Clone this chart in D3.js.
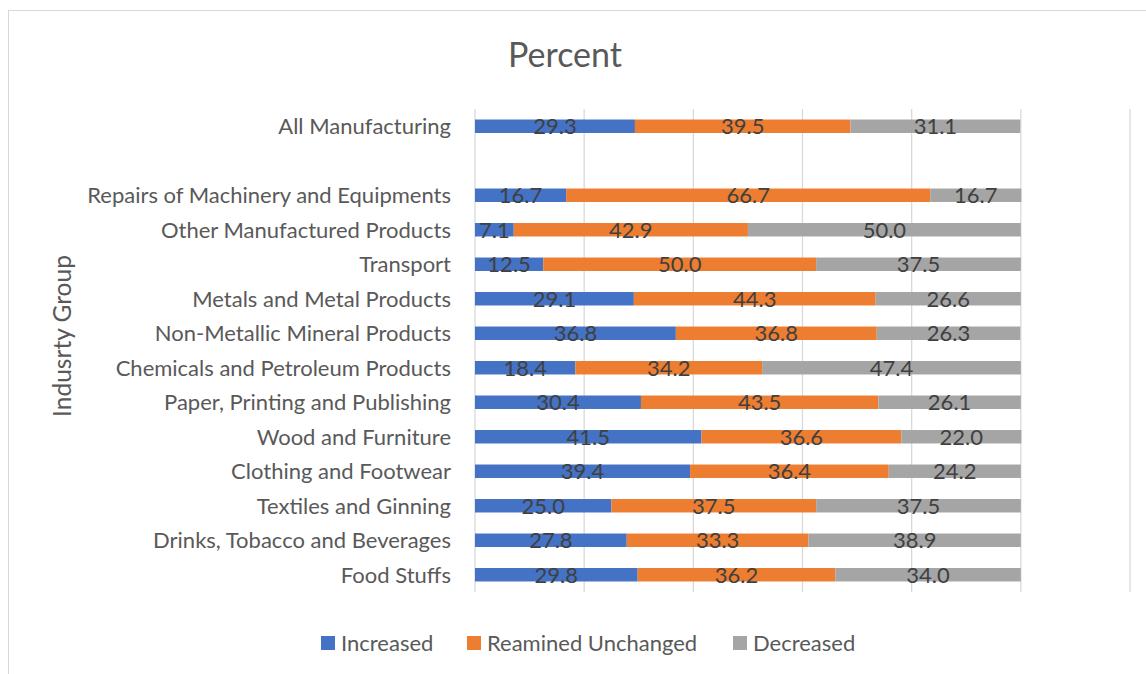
<!DOCTYPE html>
<html><head><meta charset="utf-8">
<script src="https://cdn.jsdelivr.net/npm/d3@7"></script>
<style>body{margin:0;background:#fff;} svg{display:block;}</style>
</head><body>
<svg id="c" width="1146" height="674"></svg>
<script>
const categories = ["All Manufacturing","","Repairs of Machinery and Equipments","Other Manufactured Products","Transport","Metals and Metal Products","Non-Metallic Mineral Products","Chemicals and Petroleum Products","Paper, Printing and Publishing","Wood and Furniture","Clothing and Footwear","Textiles and Ginning","Drinks, Tobacco and Beverages","Food Stuffs"];
const increased = [29.3,null,16.7,7.1,12.5,29.1,36.8,18.4,30.4,41.5,39.4,25.0,27.8,29.8];
const unchanged = [39.5,null,66.7,42.9,50.0,44.3,36.8,34.2,43.5,36.6,36.4,37.5,33.3,36.2];
const decreased = [31.1,null,16.7,50.0,37.5,26.6,26.3,47.4,26.1,22.0,24.2,37.5,38.9,34.0];
const seriesNames = ["Increased","Reamined Unchanged","Decreased"];
const colors = ["#4472C4","#ED7D31","#A5A5A5"];
const xTicks = [0,20,40,60,80,100,120];

const svg = d3.select("#c");
const font = "Lato, 'Open Sans', sans-serif";
svg.append("rect").attr("x",8.5).attr("y",10.5).attr("width",1150).attr("height",680)
  .attr("fill","#fff").attr("stroke","#d9d9d9");

const x = d3.scaleLinear().domain([0,120]).range([475,1130]);
const y = d3.scaleBand().domain(d3.range(categories.length)).range([109,592]).paddingInner(0.61).paddingOuter(0.305);

svg.append("g").selectAll("line").data(xTicks).join("line")
  .attr("x1",d=>x(d)).attr("x2",d=>x(d)).attr("y1",109).attr("y2",592)
  .attr("stroke","#d9d9d9").attr("stroke-width",1.3);

const series = [increased,unchanged,decreased];
const rows = categories.map((c,i)=>({i, vals: series.map(s=>s[i])}));
rows.forEach(r=>{
  if(r.vals[0]==null) return;
  let acc=0;
  r.segs = r.vals.map((v,k)=>{const s={k,v,x0:acc,x1:acc+v,i:r.i}; acc+=v; return s;});
});
const segs = rows.filter(r=>r.segs).flatMap(r=>r.segs);
svg.append("g").selectAll("rect").data(segs).join("rect")
  .attr("x",d=>x(d.x0)).attr("width",d=>x(d.x1)-x(d.x0))
  .attr("y",d=>y(d.i)).attr("height",y.bandwidth())
  .attr("fill",d=>colors[d.k]);
svg.append("g").selectAll("text").data(segs).join("text")
  .attr("x",d=>x((d.x0+d.x1)/2)).attr("y",d=>y(d.i)+y.bandwidth()/2)
  .attr("dy","0.36em").attr("text-anchor","middle")
  .attr("font-family",font).attr("font-size",22).attr("fill","#404040")
  .text(d=>d.v.toFixed(1));

svg.append("g").selectAll("text").data(categories).join("text")
  .attr("x",451).attr("y",(d,i)=>y(i)+y.bandwidth()/2).attr("dy","0.36em")
  .attr("text-anchor","end").attr("font-family",font).attr("font-size",22).attr("fill","#595959")
  .text(d=>d);

svg.append("text").attr("x",565).attr("y",55).attr("dy","0.36em").attr("text-anchor","middle")
  .attr("font-family",font).attr("font-size",34).attr("fill","#595959").text("Percent");
svg.append("text").attr("transform","translate(62,336) rotate(-90)").attr("dy","0.36em")
  .attr("text-anchor","middle").attr("font-family",font).attr("font-size",24.5).attr("fill","#595959")
  .text("Indusrty Group");

const legX = [321,467,733];
const lg = svg.append("g").selectAll("g").data(seriesNames).join("g")
  .attr("transform",(d,i)=>`translate(${legX[i]},643)`);
lg.append("rect").attr("x",0).attr("y",-7).attr("width",14).attr("height",14).attr("fill",(d,i)=>colors[i]);
lg.append("text").attr("x",20).attr("dy","0.36em").attr("font-family",font).attr("font-size",22)
  .attr("fill","#595959").text(d=>d);
</script>
</body></html>
